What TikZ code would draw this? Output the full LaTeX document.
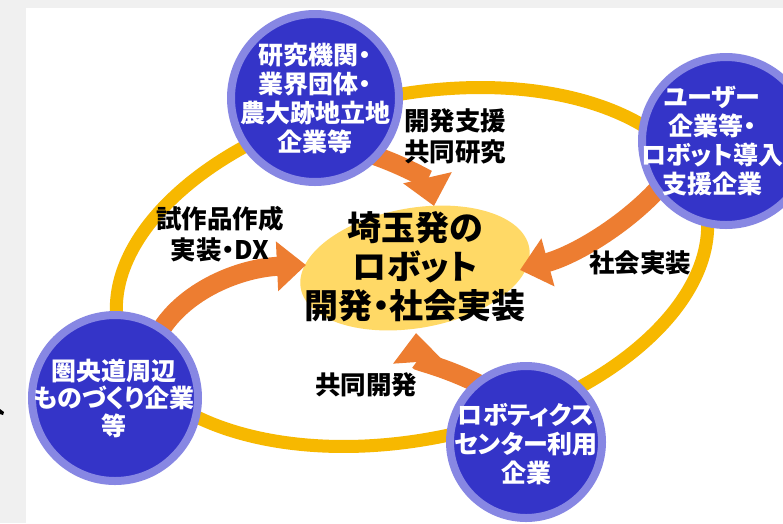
\documentclass[tikz,border=0pt]{standalone}
\usepackage{fontspec}
\newfontfamily\jp[RawFeature=+palt]{Noto Sans CJK JP}
\usetikzlibrary{shapes.geometric,arrows.meta,calc}
\pgfdeclarelayer{back}
\pgfdeclarelayer{mid}
\pgfsetlayers{back,mid,main}
\definecolor{bggray}{HTML}{F0F0F0}
\definecolor{ringgold}{HTML}{F7B800}
\definecolor{coreyel}{HTML}{FFD966}
\definecolor{orng}{HTML}{ED7D31}
\definecolor{bluein}{HTML}{3434C8}
\definecolor{bluering}{HTML}{8787E3}
\tikzset{
  bubble/.style={circle, fill=bluein, draw=bluering, line width=8pt, inner sep=0pt, minimum size=#1},
  bubtext/.style={text=white, align=center, font=\jp\bfseries\fontsize{25}{29}\selectfont, inner sep=0pt},
  lbl/.style={text=black, font=\jp\bfseries\fontsize{25.5}{31}\selectfont, inner sep=0pt},
  oarrow/.style={draw=orng, line width=19pt, -{Triangle[length=29pt,width=48pt]}},
}
\begin{document}
\begin{tikzpicture}[x=1pt,y=-1pt]
\useasboundingbox (0,0) rectangle (783,523);
\begin{pgfonlayer}{back}
  \fill[bggray] (0,0) rectangle (783,523);
  \fill[white] (26,8) rectangle (783,523);
  \fill[black] (0,409) -- (4,412) -- (3,415) -- (0,414) -- cycle;
  \draw[ringgold, line width=13pt, shift={(412,267)}, rotate=12] (0,0) ellipse [x radius=300pt, y radius=172pt];
\end{pgfonlayer}
\begin{pgfonlayer}{mid}
  \node[ellipse, fill=coreyel, minimum width=232pt, minimum height=120pt, rotate=10] (core) at (415,268) {};
\end{pgfonlayer}
% circles
\node[bubble=168pt] (top) at (315,98) {};
\node[bubble=168pt] (user) at (726,141) {};
\node[bubble=166pt] (left) at (115,398) {};
\node[bubble=152pt] (robo) at (526,442) {};
% circle texts
\node[bubtext] (ttop) at (315,98) {研究機関・\\業界団体・\\農大跡地立地\\企業等};
\node[bubtext] (tuser) at (712,141) {ユーザー\\企業等・\\ロボット導入\\支援企業};
\node[bubtext, font=\jp\bfseries\fontsize{25}{27.5}\selectfont] (tleft) at (114,398) {圏央道周辺\\ものづくり企業\\等};
\node[bubtext] (trobo) at (526,444) {ロボティクス\\センター利用\\企業};
% core text
\node[text=black, align=center, inner sep=0pt, font=\jp\bfseries\fontsize{34}{39}\selectfont] (tcore) at (415,267) {埼玉発の\\ロボット\\開発・社会実装};
% labels
\node[lbl, anchor=west, align=left] (l1) at (404,136) {開発支援\\共同研究};
\node[lbl, align=center] (l2) at (220,234) {試作品作成\\実装・DX};
\node[lbl] (l3) at (640,263) {社会実装};
\node[lbl] (l4) at (366,385) {共同開発};
% arrows
\coordinate (tip1) at (434,206);
\coordinate (tip2) at (520,270);
\coordinate (tip3) at (306,265);
\coordinate (tip4) at (416,333);
\begin{pgfonlayer}{mid}
  \draw[oarrow] ($(top)+(-45:80pt)$) .. controls (405,166) and (428,180) .. (tip1);
  \draw[oarrow] ($(user)+(-145:82pt)$) .. controls (625,225) and (575,255) .. (tip2);
  \draw[oarrow] ($(left)+(56:80pt)$) .. controls (185,290) and (240,268) .. (tip3);
  \draw[oarrow] ($(robo)+(128:72pt)$) .. controls (440,365) and (418,362) .. (tip4);
\end{pgfonlayer}
\end{tikzpicture}
\end{document}
